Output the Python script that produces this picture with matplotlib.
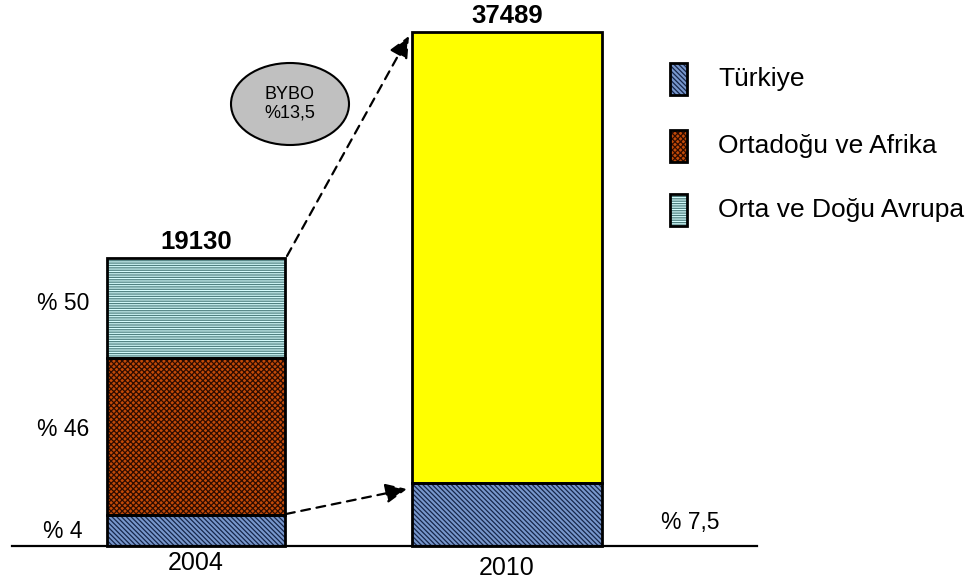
import numpy as np
import matplotlib
matplotlib.use('Agg')
import matplotlib.pyplot as plt
from matplotlib.patches import Ellipse, Rectangle

plt.rcParams['font.family'] = ['Liberation Sans', 'DejaVu Sans']
plt.rcParams['hatch.linewidth'] = 0.9

# data (segment heights, schematic units)
years = ['2004', '2010']
totals = [19130, 37489]
turkiye = [31, 63]
ortadogu = [157, 0]
orta_dogu = [100, 0]
diger = [0, 451]
pct_2004 = ['% 4', '% 46', '% 50']
pct_2010 = ['% 7,5']
legend_names = ['Türkiye', 'Ortadoğu ve Afrika', 'Orta ve Doğu Avrupa']
bubble_text = 'BYBO\n%13,5'

W, H = 973, 582
BASE = 546  # baseline pixel row

fig = plt.figure(figsize=(W / 100, H / 100), dpi=100)
ax = fig.add_axes([0, 0, 1, 1])
ax.set_xlim(0, W)
ax.set_ylim(BASE - H, BASE)
ax.axis('off')

def py(y):
    # pixel row -> data y
    return BASE - y

xs = [196, 507]
widths = [178, 190]

styles = {
    'tr': dict(fc='#7897cc', hc='#16264a', hatch='\\\\\\\\\\\\\\'),
    'oa': dict(fc='#c24a08', hc='#2e0c00', hatch='xxxxxx'),
    'od': dict(fc='#d8ffff', hc='#4f8080', hatch='-------'),
    'yl': dict(fc='#ffff00', hc=None, hatch=None),
}

def hbar(x, h, w, b, st):
    ax.bar(x, h, w, bottom=b, color=st['fc'], linewidth=0, zorder=2)
    if st['hatch']:
        ax.bar(x, h, w, bottom=b, fill=False, edgecolor=st['hc'],
               hatch=st['hatch'], linewidth=0, zorder=3)
    ax.bar(x, h, w, bottom=b, fill=False, edgecolor='black',
           linewidth=2, zorder=4)

bottom = np.zeros(2)
for vals, key in [(turkiye, 'tr'), (ortadogu, 'oa'), (orta_dogu, 'od'), (diger, 'yl')]:
    for i in range(2):
        if vals[i] > 0:
            hbar(xs[i], vals[i], widths[i], bottom[i], styles[key])
    bottom += np.array(vals)

# baseline
ax.plot([12, 757], [0, 0], color='black', lw=1.6, zorder=5)

# totals
for i in range(2):
    ax.text(xs[i], bottom[i] + 4, str(totals[i]), ha='center', va='bottom',
            fontsize=18.5, fontweight='bold')

# years
ax.text(xs[0], py(563), years[0], ha='center', va='center', fontsize=18)
ax.text(xs[1], py(568), years[1], ha='center', va='center', fontsize=18)

# percent labels
ax.text(63, py(532), pct_2004[0], ha='center', va='center', fontsize=16.5)
ax.text(63, py(430), pct_2004[1], ha='center', va='center', fontsize=16.5)
ax.text(63, py(303), pct_2004[2], ha='center', va='center', fontsize=16.5)
ax.text(690, py(523), pct_2010[0], ha='center', va='center', fontsize=16.5)

# arrows
arrow = dict(arrowstyle='-|>,head_length=1.3,head_width=0.6', linestyle=(0, (4, 3)),
             color='black', lw=1.6, shrinkA=0, shrinkB=0)
ax.annotate('', xy=(409, py(36)), xytext=(287, py(256)), arrowprops=arrow, zorder=6)
ax.annotate('', xy=(407, py(489)), xytext=(286, py(514)), arrowprops=arrow, zorder=6)

# bubble
ax.add_patch(Ellipse((290, py(104)), 118, 82, facecolor='#c0c0c0',
                     edgecolor='black', lw=1.5, zorder=6))
ax.text(290, py(104), bubble_text, ha='center', va='center', fontsize=13,
        linespacing=1.15, zorder=7)

# legend
leg_y = [79, 146, 210]
for name, key, yy in zip(legend_names, ['tr', 'oa', 'od'], leg_y):
    st = styles[key]
    ax.add_patch(Rectangle((670, py(yy) - 16), 17, 32, facecolor=st['fc'], lw=0, zorder=2))
    ax.add_patch(Rectangle((670, py(yy) - 16), 17, 32, fill=False, edgecolor=st['hc'],
                           hatch=st['hatch'], lw=0, zorder=3))
    ax.add_patch(Rectangle((670, py(yy) - 16), 17, 32, fill=False, edgecolor='black',
                           lw=2, zorder=4))
    ax.text(718, py(yy), name, ha='left', va='center', fontsize=19)

fig.savefig('out.png', dpi=100)
